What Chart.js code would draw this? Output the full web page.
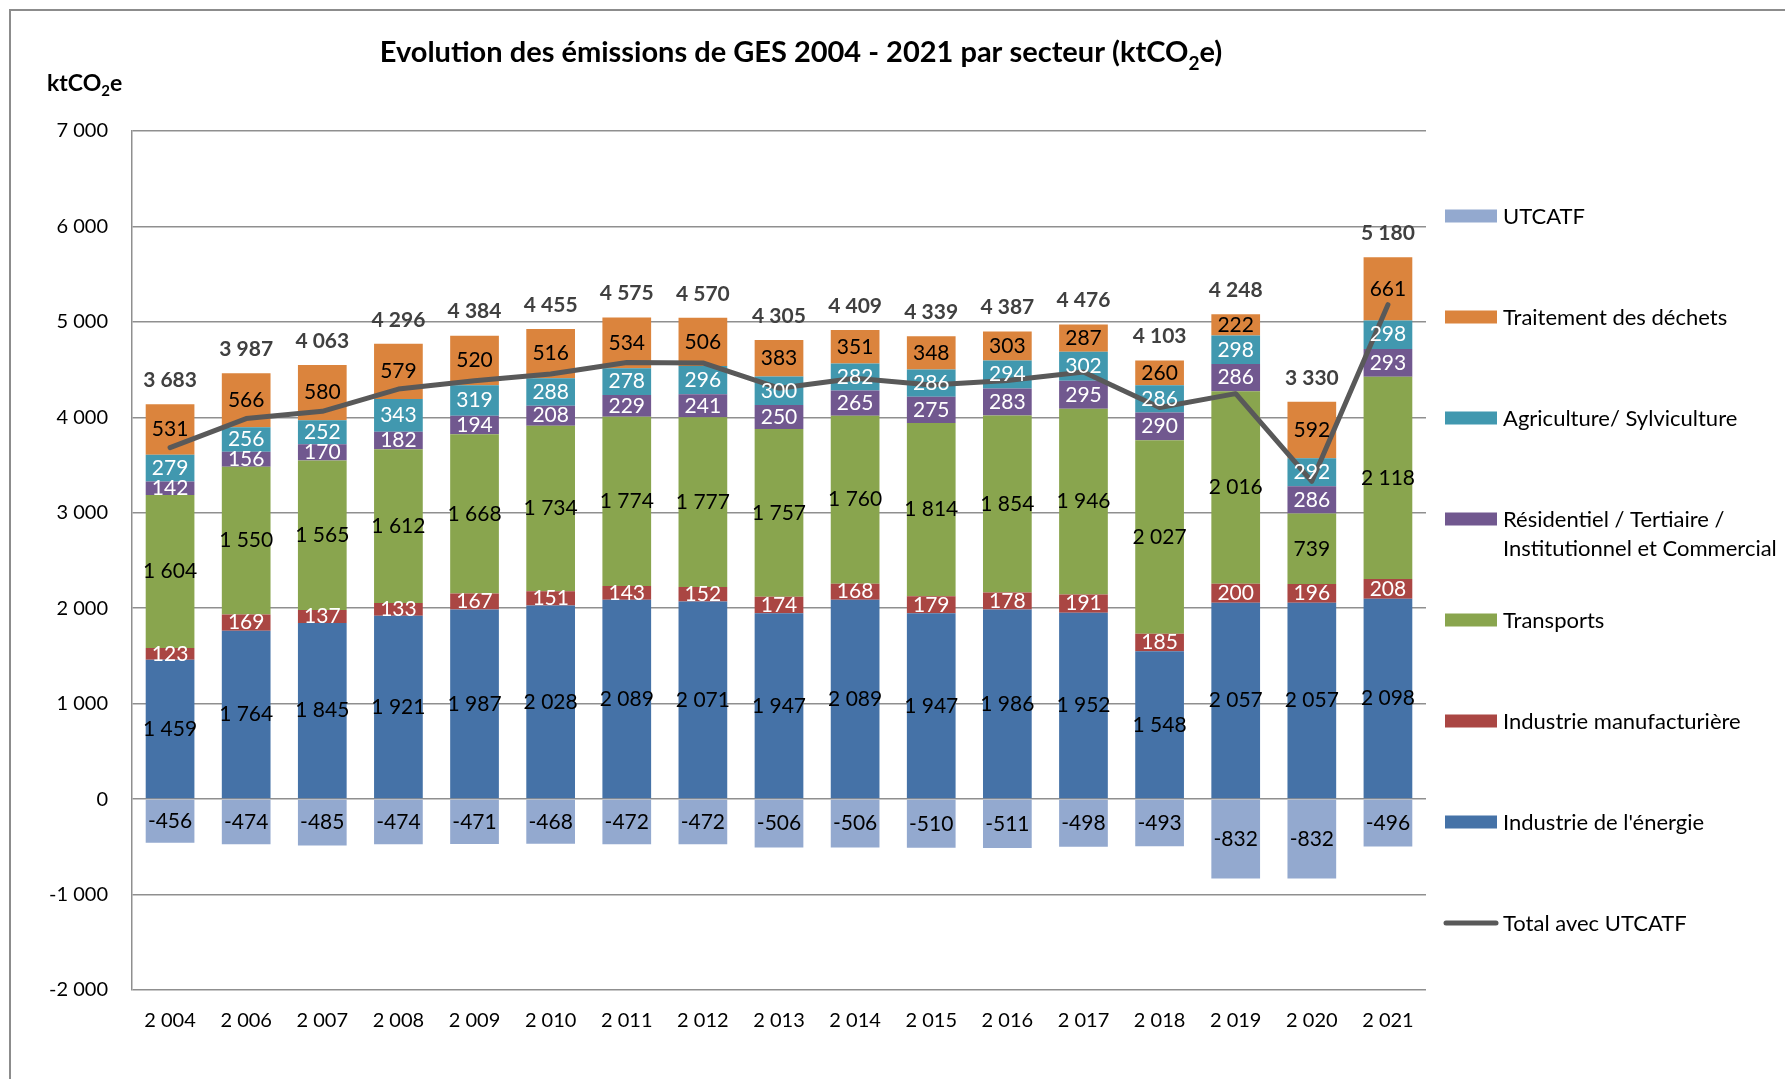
<!DOCTYPE html>
<html lang="fr">
<head>
<meta charset="utf-8">
<title>Evolution des émissions de GES 2004 - 2021 par secteur</title>
<script src="https://cdn.jsdelivr.net/npm/chart.js@4.4.1/dist/chart.umd.min.js"></script>
<style>
  html, body { margin: 0; padding: 0; background: #fff; }
  canvas { display: block; }
</style>
</head>
<body>
<canvas id="ges-chart" width="1785" height="1079"></canvas>
<script>
const years = [2004, 2006, 2007, 2008, 2009, 2010, 2011, 2012, 2013, 2014, 2015, 2016, 2017, 2018, 2019, 2020, 2021];

const energie = [1459, 1764, 1845, 1921, 1987, 2028, 2089, 2071, 1947, 2089, 1947, 1986, 1952, 1548, 2057, 2057, 2098];
const industrie = [123, 169, 137, 133, 167, 151, 143, 152, 174, 168, 179, 178, 191, 185, 200, 196, 208];
const transports = [1604, 1550, 1565, 1612, 1668, 1734, 1774, 1777, 1757, 1760, 1814, 1854, 1946, 2027, 2016, 739, 2118];
const residentiel = [142, 156, 170, 182, 194, 208, 229, 241, 250, 265, 275, 283, 295, 290, 286, 286, 293];
const agriculture = [279, 256, 252, 343, 319, 288, 278, 296, 300, 282, 286, 294, 302, 286, 298, 292, 298];
const dechets = [531, 566, 580, 579, 520, 516, 534, 506, 383, 351, 348, 303, 287, 260, 222, 592, 661];
const utcatf = [-456, -474, -485, -474, -471, -468, -472, -472, -506, -506, -510, -511, -498, -493, -832, -832, -496];
const totals = [3683, 3987, 4063, 4296, 4384, 4455, 4575, 4570, 4305, 4409, 4339, 4387, 4476, 4103, 4248, 3330, 5180];

const yTicks = [-2000, -1000, 0, 1000, 2000, 3000, 4000, 5000, 6000, 7000];

// nombres au format "1 234"
function fmt(v) {
  const s = Math.abs(v).toString().replace(/\B(?=(\d{3})+(?!\d))/g, " ");
  return (v < 0 ? "-" : "") + s;
}

Chart.defaults.font.family = "Lato";
Chart.defaults.color = "#000";

function drawWithSub(ctx, before, sub, after, size, subSize, shift, x, baseline, align) {
  ctx.font = "bold " + size + "px Lato";
  const w1 = ctx.measureText(before).width;
  const w3 = ctx.measureText(after).width;
  ctx.font = "bold " + subSize + "px Lato";
  const w2 = ctx.measureText(sub).width;
  let left = align === "center" ? x - (w1 + w2 + w3) / 2 : x;
  ctx.textAlign = "left";
  ctx.textBaseline = "alphabetic";
  ctx.font = "bold " + size + "px Lato";
  ctx.fillText(before, left, baseline);
  ctx.font = "bold " + subSize + "px Lato";
  ctx.fillText(sub, left + w1, baseline + shift);
  ctx.font = "bold " + size + "px Lato";
  ctx.fillText(after, left + w1 + w2, baseline);
}

function wrapText(ctx, text, maxWidth) {
  const words = text.split(" ");
  const lines = [];
  let line = "";
  words.forEach((w) => {
    const test = line ? line + " " + w : w;
    if (ctx.measureText(test).width > maxWidth && line) {
      lines.push(line);
      line = w;
    } else {
      line = test;
    }
  });
  lines.push(line);
  return lines;
}

const barLabels = {
  id: "barLabels",
  afterDatasetsDraw(chart) {
    const ctx = chart.ctx;
    ctx.save();
    ctx.textAlign = "center";
    ctx.textBaseline = "middle";
    ctx.font = "21px Lato";
    chart.data.datasets.forEach((ds, di) => {
      if (ds.type === "line") return;
      const meta = chart.getDatasetMeta(di);
      meta.data.forEach((bar, i) => {
        ctx.fillStyle = ds.labelColor;
        ctx.fillText(fmt(ds.data[i]), bar.x, (bar.y + bar.base) / 2);
      });
    });
    // total au-dessus de chaque barre
    ctx.font = "bold 21px Lato";
    ctx.fillStyle = "#404040";
    totals.forEach((v, i) => {
      let top = Infinity;
      let x = 0;
      chart.data.datasets.forEach((ds, di) => {
        if (ds.type === "line" || ds.data[i] <= 0) return;
        const bar = chart.getDatasetMeta(di).data[i];
        top = Math.min(top, bar.y);
        x = bar.x;
      });
      ctx.fillText(fmt(v), x, top - 24);
    });
    ctx.restore();
  },
};

const decor = {
  id: "decor",
  afterDraw(chart) {
    const ctx = chart.ctx;
    ctx.save();
    // cadre
    ctx.strokeStyle = "#8c8c8c";
    ctx.lineWidth = 2;
    ctx.beginPath();
    ctx.moveTo(10, 1079);
    ctx.lineTo(10, 10);
    ctx.lineTo(1785, 10);
    ctx.stroke();

    ctx.fillStyle = "#000";
    drawWithSub(ctx, "Evolution des émissions de GES 2004 - 2021 par secteur (ktCO", "2", "e)", 29, 19, 8, 801, 62, "center");
    drawWithSub(ctx, "ktCO", "2", "e", 23, 15, 5.5, 47, 90.5, "left");

    // légende
    const order = [6, 5, 4, 3, 2, 1, 0, 7];
    ctx.font = "22px Lato";
    ctx.textAlign = "left";
    ctx.textBaseline = "alphabetic";
    order.forEach((di, k) => {
      const ds = chart.data.datasets[di];
      const cy = 216 + k * 101;
      if (ds.type === "line") {
        ctx.strokeStyle = ds.borderColor;
        ctx.lineWidth = 5;
        ctx.lineCap = "round";
        ctx.beginPath();
        ctx.moveTo(1446, cy);
        ctx.lineTo(1496, cy);
        ctx.stroke();
      } else {
        ctx.fillStyle = ds.backgroundColor;
        ctx.fillRect(1445, cy - 6.5, 52, 13);
      }
      ctx.fillStyle = "#000";
      wrapText(ctx, ds.label, 1785 - 1503).forEach((t, j) => {
        ctx.fillText(t, 1503, cy + 7.5 + j * 29);
      });
    });
    ctx.restore();
  },
};

function barSet(label, data, color, labelColor) {
  return {
    label: label,
    data: data,
    backgroundColor: color,
    labelColor: labelColor,
    borderWidth: 0,
    barPercentage: 0.64,
    categoryPercentage: 1.0,
    order: 1,
  };
}

const config = {
  type: "bar",
  data: {
    labels: years,
    datasets: [
      barSet("Industrie de l'énergie", energie, "#4572a7", "#000"),
      barSet("Industrie manufacturière", industrie, "#aa4643", "#fff"),
      barSet("Transports", transports, "#89a54e", "#000"),
      barSet("Résidentiel / Tertiaire / Institutionnel et Commercial", residentiel, "#71588f", "#fff"),
      barSet("Agriculture/ Sylviculture", agriculture, "#4198af", "#fff"),
      barSet("Traitement des déchets", dechets, "#db843d", "#000"),
      barSet("UTCATF", utcatf, "#93a9cf", "#000"),
      {
        type: "line",
        label: "Total avec UTCATF",
        data: totals,
        stack: "total",
        borderColor: "#595959",
        borderWidth: 5,
        borderCapStyle: "round",
        borderJoinStyle: "round",
        pointRadius: 0,
        tension: 0,
        fill: false,
        order: 0,
      },
    ],
  },
  options: {
    responsive: false,
    animation: false,
    events: [],
    layout: {
      padding: { top: 131, right: 359, bottom: 0, left: 0 },
    },
    scales: {
      x: {
        stacked: true,
        grid: { display: false },
        border: { display: false },
        ticks: {
          font: { size: 20 },
          padding: 11,
          callback: function (value) {
            return fmt(this.getLabelForValue(value));
          },
        },
        afterFit: (scale) => {
          scale.height = 89;
        },
      },
      y: {
        stacked: true,
        min: yTicks[0],
        max: yTicks[yTicks.length - 1],
        ticks: {
          stepSize: yTicks[1] - yTicks[0],
          font: { size: 20 },
          padding: 24,
          callback: (value) => fmt(value),
        },
        grid: {
          color: "#8f8f8f",
          lineWidth: 1.5,
          drawTicks: false,
        },
        border: { display: true, color: "#8f8f8f", width: 1.5 },
        afterFit: (scale) => {
          scale.width = 132;
        },
      },
    },
    plugins: {
      legend: { display: false },
      title: { display: false },
      tooltip: { enabled: false },
    },
  },
  plugins: [barLabels, decor],
};

const gesChart = new Chart(document.getElementById("ges-chart"), config);
</script>
</body>
</html>
